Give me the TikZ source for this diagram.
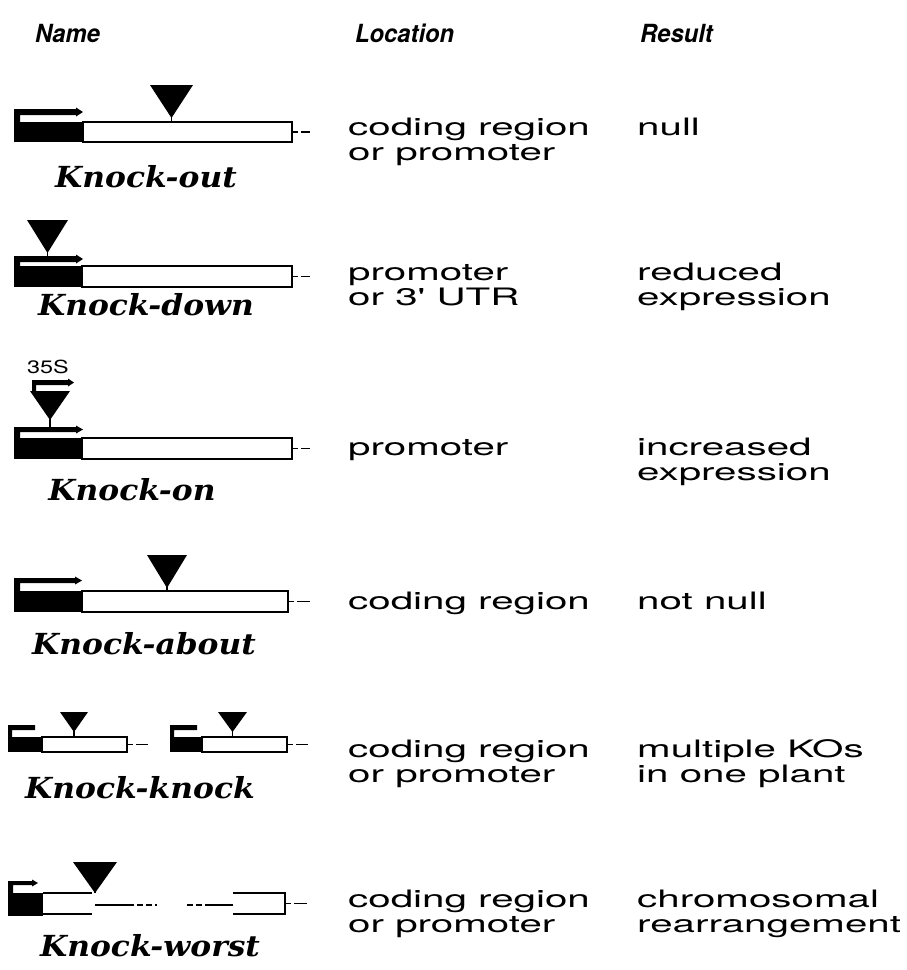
\documentclass[tikz,border=0pt]{standalone}
\usepackage{fontspec}
\usepackage{graphicx}
\usetikzlibrary{arrows.meta}
\newfontfamily\hdfont{TeX Gyre Heros}
\newfontfamily\nmfont{DejaVu Serif}
\newcommand\wide[1]{\scalebox{1.68}[1]{#1}}
\newcommand\hwide[1]{\scalebox{0.95}[1]{#1}}
\newcommand\nwide[1]{\scalebox{1.08}[1]{#1}}
% gene body: x left, x black end, x right, y top, y bottom, tail end
\newcommand\genebody[6]{%
  \fill (#1,#4) rectangle (#2,#5);
  \draw[gline] (#2,#4) rectangle (#3,#5);
  \draw[line width=1.2pt] (#3,{(#4+#5)/2}) -- ++(6,0) ++(3,0) -- (#6,{(#4+#5)/2});
}
% promoter arrow: x left, bar top, bar bottom, box top, tip x, vertical width, head length, head extra
\newcommand\prom[8]{%
  \fill (#1,#2) -- ({#5-#7},#2) -- ({#5-#7},{#2-#8}) -- (#5,{(#2+#3)/2}) -- ({#5-#7},{#3+#8}) -- ({#5-#7},#3)
     -- ({#1+#6},#3) -- ({#1+#6},#4) -- (#1,#4) -- cycle;
}
% insertion triangle: x left, x right, y top, y apex, y stem end
\newcommand\ins[5]{%
  \fill (#1,#3) -- (#2,#3) -- ({(#1+#2)/2},#4) -- cycle;
  \draw[line width=1.5pt] ({(#1+#2)/2},{#4-2}) -- ({(#1+#2)/2},#5);
}
\begin{document}
\begin{tikzpicture}[x=1pt,y=-1pt,
  gline/.style={line width=2pt},
  hdr/.style={anchor=base west, inner sep=0pt, font=\hdfont\bfseries\itshape\fontsize{25}{28}\selectfont},
  loc/.style={anchor=base west, inner sep=0pt, font=\hdfont\fontsize{24}{25}\selectfont},
  nm/.style={anchor=base, inner sep=0pt, font=\nmfont\bfseries\itshape\fontsize{29}{32}\selectfont}]
\useasboundingbox[fill=white] (0,0) rectangle (906,970);

% headers
\node[hdr] (hname) at (35,42) {\hwide{Name}};
\node[hdr] (hloc) at (355,42) {\hwide{Location}};
\node[hdr] (hres) at (640,42) {\hwide{Result}};

% ---- Knock-out
\prom{14}{109}{115}{122}{83}{6}{7}{1.5}
\genebody{14}{83}{292}{122}{142}{310}
\ins{150}{193}{85}{118}{122}
\node[nm] (n1) at (146,187) {\nwide{Knock-out}};
\node[loc] (l1a) at (348,135) {\wide{coding region}};
\node[loc] (l1b) at (348,160) {\wide{or promoter}};
\node[loc] (r1a) at (637,135) {\wide{null}};

% ---- Knock-down
\genebody{14}{82}{292}{266}{287}{310}
\prom{14}{256}{262}{266}{83}{6}{7}{1.5}
\ins{27}{68}{220}{253}{256}
\node[nm] (n2) at (146,315) {\nwide{Knock-down}};
\node[loc] (l2a) at (348,280) {\wide{promoter}};
\node[loc] (l2b) at (348,305) {\wide{or 3' UTR}};
\node[loc] (r2a) at (637,280) {\wide{reduced}};
\node[loc] (r2b) at (637,305) {\wide{expression}};

% ---- Knock-on
\node[anchor=base west, inner sep=0pt, font=\hdfont\fontsize{18}{20}\selectfont] (s35) at (27,373) {\scalebox{1.3}[1]{35S}};
\prom{32}{380}{385}{391}{74}{4}{6}{1.5}
\ins{30}{70}{391}{420}{427}
\prom{14}{427}{432}{438}{83}{6}{7}{1.5}
\genebody{14}{82}{292}{438}{459}{310}
\node[nm] (n3) at (132,500) {\nwide{Knock-on}};
\node[loc] (l3a) at (348,455) {\wide{promoter}};
\node[loc] (r3a) at (637,455) {\wide{increased}};
\node[loc] (r3b) at (637,480) {\wide{expression}};

% ---- Knock-about
\prom{14}{578}{583}{591}{82}{6}{7}{1.5}
\genebody{14}{82}{288}{591}{612}{310}
\ins{147}{187}{555}{588}{591}
\node[nm] (n4) at (144,654) {\nwide{Knock-about}};
\node[loc] (l4a) at (348,609) {\wide{coding region}};
\node[loc] (r4a) at (637,609) {\wide{not null}};

% ---- Knock-knock
\prom{8}{725}{730}{737}{35}{4}{0}{0}
\genebody{8}{42}{127}{737}{752}{148}
\ins{60}{88}{712}{732}{737}
\prom{170}{725}{730}{737}{197}{4}{0}{0}
\genebody{170}{202}{287}{737}{752}{308}
\ins{218}{247}{712}{732}{737}
\node[nm] (n5) at (140,798) {\nwide{Knock-knock}};
\node[loc] (l5a) at (348,757) {\wide{coding region}};
\node[loc] (l5b) at (348,782) {\wide{or promoter}};
\node[loc] (r5a) at (637,757) {\wide{multiple KOs}};
\node[loc] (r5b) at (637,782) {\wide{in one plant}};

% ---- Knock-worst
\prom{8}{881}{885}{893}{38}{5}{6}{1.5}
\fill (8,893) rectangle (43,916);
\draw[gline] (43,893) -- (92,893);
\draw[gline] (43,914) -- (92,914);
\ins{73}{117}{862}{893}{893}
\draw[line width=1.5pt] (95,905) -- (128,905);
\draw[line width=1.5pt, dash pattern=on 6pt off 3pt] (128,905) -- (157,905);
\draw[line width=1.5pt, dash pattern=on 6pt off 3pt] (187,905) -- (210,905);
\draw[line width=1.5pt] (210,905) -- (233,905);
\draw[gline] (233,893) -- (285,893) -- (285,914) -- (233,914);
\draw[line width=1.2pt] (285,903.5) -- ++(6,0) ++(3,0) -- (307,903.5);
\node[nm] (n6) at (150,956) {\nwide{Knock-worst}};
\node[loc] (l6a) at (348,907) {\wide{coding region}};
\node[loc] (l6b) at (348,932) {\wide{or promoter}};
\node[loc] (r6a) at (637,907) {\wide{chromosomal}};
\node[loc] (r6b) at (637,932) {\wide{rearrangement}};
\end{tikzpicture}
\end{document}
